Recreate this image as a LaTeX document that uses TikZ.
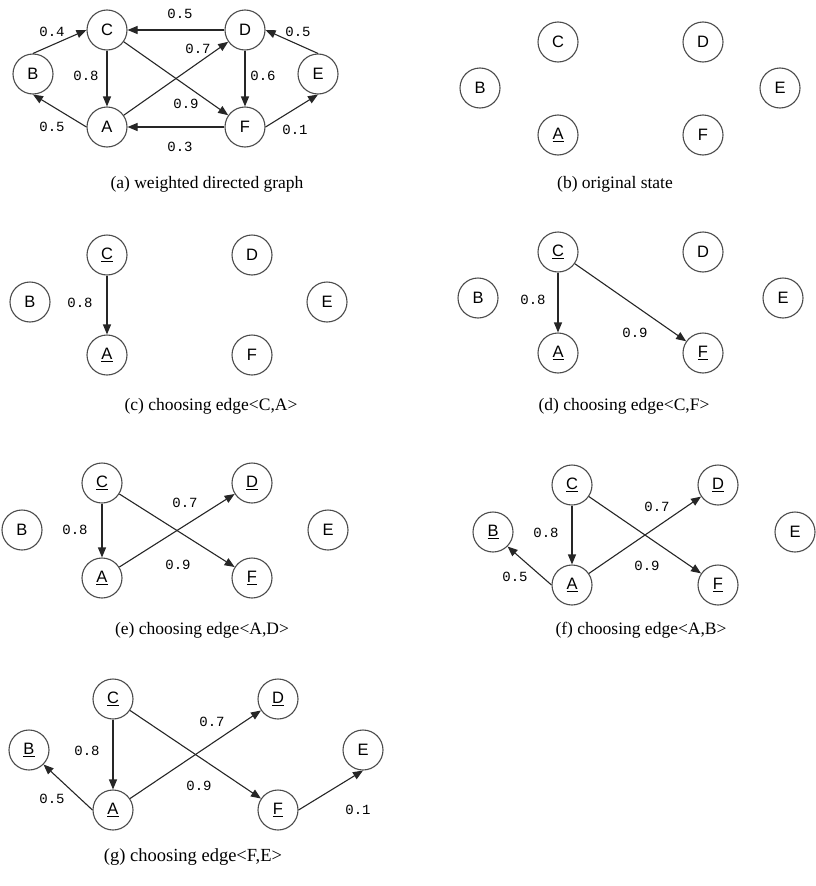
\documentclass[tikz,border=0pt]{standalone}
\usepackage{fontspec}
\setmainfont{Liberation Serif}
\newfontfamily\vertexfont{Liberation Sans}
\newfontfamily\weightfont{Liberation Mono}
\usetikzlibrary{arrows.meta}
\tikzset{
  vtx/.style={circle, draw=black!70, line width=1.1pt, minimum size=40pt, inner sep=0pt,
    font=\vertexfont\fontsize{16.5}{16.5}\selectfont},
  arc/.style={draw=black!85, line width=1.1pt, -{Triangle[length=10pt,width=8pt]}},
  wt/.style={font=\weightfont\fontsize{14}{14}\selectfont, inner sep=0pt},
  subcap/.style={inner sep=0pt, font=\fontsize{#1}{#1}\selectfont},
  subcap/.default=17.5,
}
\newcommand{\seen}[1]{\underline{#1}}
\begin{document}
\begin{tikzpicture}[x=1pt, y=-1pt]
\useasboundingbox (0,0) rectangle (815,886);

% (a) weighted directed graph
\node[vtx] (aA) at (107,127) {A};
\node[vtx] (aB) at (33,74) {B};
\node[vtx] (aC) at (107,30) {C};
\node[vtx] (aD) at (245,30) {D};
\node[vtx] (aE) at (318,74) {E};
\node[vtx] (aF) at (245,127) {F};
\draw[arc] (aB.north) -- (aC.west);
\draw[arc] (aD.west) -- (aC.east);
\draw[arc] (aE.north) -- (aD.east);
\draw[arc] (aA) -- (aD);
\draw[arc] (aC) -- (aA);
\draw[arc] (aD) -- (aF);
\draw[arc] (aC) -- (aF);
\draw[arc] (aA.west) -- (aB.south);
\draw[arc] (aF.west) -- (aA.east);
\draw[arc] (aF.east) -- (aE.south);
\node[wt] (aw1) at (52,32) {0.4};
\node[wt] (aw2) at (180,14) {0.5};
\node[wt] (aw3) at (298,32) {0.5};
\node[wt] (aw4) at (198,49) {0.7};
\node[wt] (aw5) at (86,76) {0.8};
\node[wt] (aw6) at (263,76) {0.6};
\node[wt] (aw7) at (186,104) {0.9};
\node[wt] (aw8) at (52,127) {0.5};
\node[wt] (aw9) at (180,147) {0.3};
\node[wt] (aw10) at (295,130) {0.1};
\node[subcap] (acap) at (207,184) {(a) weighted directed graph};

% (b) original state
\node[vtx] (bA) at (558,135) {\seen{A}};
\node[vtx] (bB) at (480,88) {B};
\node[vtx] (bC) at (558,42) {C};
\node[vtx] (bD) at (703,42) {D};
\node[vtx] (bE) at (780,88) {E};
\node[vtx] (bF) at (703,135) {F};
\node[subcap] (bcap) at (615,184) {(b) original state};

% (c) choosing edge <C,A>
\node[vtx] (cA) at (107,355) {\seen{A}};
\node[vtx] (cB) at (30,302) {B};
\node[vtx] (cC) at (107,255) {\seen{C}};
\node[vtx] (cD) at (252,255) {D};
\node[vtx] (cE) at (327,302) {E};
\node[vtx] (cF) at (252,355) {F};
\draw[arc] (cC) -- (cA);
\node[wt] (cw1) at (80,303) {0.8};
\node[subcap] (ccap) at (211,406) {(c) choosing edge<C,A>};

% (d) choosing edge <C,F>
\node[vtx] (dA) at (558,353) {\seen{A}};
\node[vtx] (dB) at (478,298) {B};
\node[vtx] (dC) at (558,252) {\seen{C}};
\node[vtx] (dD) at (703,252) {D};
\node[vtx] (dE) at (783,298) {E};
\node[vtx] (dF) at (703,353) {\seen{F}};
\draw[arc] (dC) -- (dA);
\draw[arc] (dC) -- (dF);
\node[wt] (dw1) at (533,300) {0.8};
\node[wt] (dw2) at (635,333) {0.9};
\node[subcap] (dcap) at (624,406) {(d) choosing edge<C,F>};

% (e) choosing edge <A,D>
\node[vtx] (eA) at (102,578) {\seen{A}};
\node[vtx] (eB) at (22,530) {B};
\node[vtx] (eC) at (102,483) {\seen{C}};
\node[vtx] (eD) at (252,483) {\seen{D}};
\node[vtx] (eE) at (328,530) {E};
\node[vtx] (eF) at (252,578) {\seen{F}};
\draw[arc] (eC) -- (eA);
\draw[arc] (eC) -- (eF);
\draw[arc] (eA) -- (eD);
\node[wt] (ew1) at (185,503) {0.7};
\node[wt] (ew2) at (75,530) {0.8};
\node[wt] (ew3) at (178,565) {0.9};
\node[subcap] (ecap) at (202,630) {(e) choosing edge<A,D>};

% (f) choosing edge <A,B>
\node[vtx] (fA) at (572,585) {\seen{A}};
\node[vtx] (fB) at (493,532) {\seen{B}};
\node[vtx] (fC) at (572,485) {\seen{C}};
\node[vtx] (fD) at (718,485) {\seen{D}};
\node[vtx] (fE) at (795,532) {E};
\node[vtx] (fF) at (718,585) {\seen{F}};
\draw[arc] (fC) -- (fA);
\draw[arc] (fC) -- (fF);
\draw[arc] (fA) -- (fD);
\draw[arc] (fA.west) -- (fB.south east);
\node[wt] (fw1) at (546,533) {0.8};
\node[wt] (fw2) at (657,507) {0.7};
\node[wt] (fw3) at (647,566) {0.9};
\node[wt] (fw4) at (515,577) {0.5};
\node[subcap] (fcap) at (641,630) {(f) choosing edge<A,B>};

% (g) choosing edge <F,E>
\node[vtx] (gA) at (113,810) {\seen{A}};
\node[vtx] (gB) at (29,750) {\seen{B}};
\node[vtx] (gC) at (113,699) {\seen{C}};
\node[vtx] (gD) at (278,699) {\seen{D}};
\node[vtx] (gE) at (363,750) {E};
\node[vtx] (gF) at (278,810) {\seen{F}};
\draw[arc] (gC) -- (gA);
\draw[arc] (gC) -- (gF);
\draw[arc] (gA) -- (gD);
\draw[arc] (gA.west) -- (gB.south east);
\draw[arc] (gF.east) -- (gE.south);
\node[wt] (gw1) at (87,751) {0.8};
\node[wt] (gw2) at (212,722) {0.7};
\node[wt] (gw3) at (199,786) {0.9};
\node[wt] (gw4) at (52,799) {0.5};
\node[wt] (gw5) at (358,810) {0.1};
\node[subcap=18.5] (gcap) at (193,857) {(g) choosing edge<F,E>};
\end{tikzpicture}
\end{document}
